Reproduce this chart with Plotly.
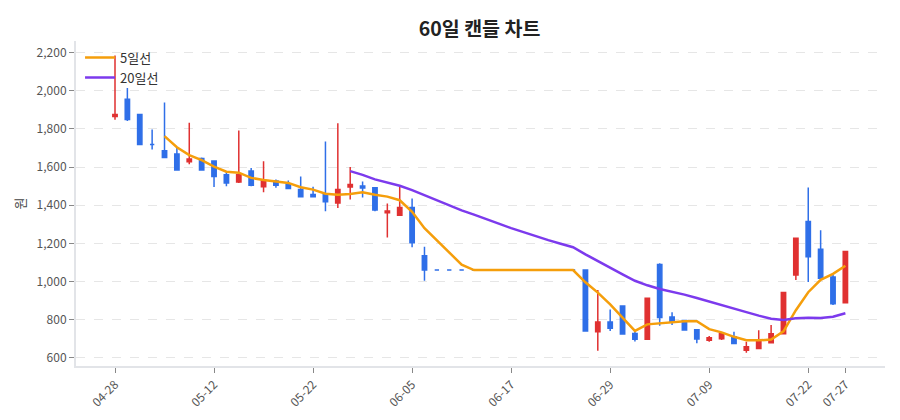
import pandas as pd
import plotly.graph_objects as go

# 거래일 (2026)
dates = ["04-28", "04-29", "04-30", "05-04", "05-06", "05-07", "05-08", "05-11",
         "05-12", "05-13", "05-14", "05-15", "05-18", "05-19", "05-20", "05-21",
         "05-22", "05-26", "05-27", "05-28", "05-29", "06-01", "06-02", "06-04",
         "06-05", "06-08", "06-09", "06-10", "06-11", "06-12", "06-15", "06-16",
         "06-17", "06-18", "06-19", "06-22", "06-23", "06-24", "06-25", "06-26",
         "06-29", "06-30", "07-01", "07-02", "07-03", "07-06", "07-07", "07-08",
         "07-09", "07-10", "07-13", "07-14", "07-15", "07-16", "07-20", "07-21",
         "07-22", "07-23", "07-24", "07-27"]

opens = [1865, 1955, 1875, 1718, 1685, 1668, 1628, 1645, 1632, 1560,
         1522, 1580, 1497, 1527, 1510, 1483, 1456, 1460, 1412, 1496,
         1501, 1492, 1360, 1348, 1388, 1135, 1060, 1060, 1060, 1060,
         1060, 1060, 1060, 1060, 1060, 1060, 1060, 1060, 1060, 737,
         788, 872, 728, 697, 1089, 814, 795, 747, 692, 700,
         710, 640, 649, 679, 726, 1034, 1314, 1169, 1024, 889]
highs = [2185, 2015, 1878, 1797, 1938, 1700, 1832, 1650, 1635, 1574,
         1792, 1595, 1630, 1535, 1530, 1551, 1497, 1734, 1830, 1600,
         1525, 1494, 1409, 1499, 1435, 1182, 1060, 1060, 1060, 1060,
         1060, 1060, 1060, 1060, 1060, 1060, 1060, 1060, 1062, 956,
         853, 873, 742, 913, 1096, 839, 797, 748, 714, 728,
         737, 684, 745, 772, 944, 1228, 1493, 1269, 1034, 1158]
lows = [1848, 1842, 1715, 1692, 1648, 1583, 1615, 1581, 1495, 1499,
        1517, 1500, 1468, 1492, 1485, 1443, 1442, 1369, 1386, 1430,
        1440, 1369, 1231, 1347, 1179, 1004, 1060, 1060, 1060, 1060,
        1060, 1060, 1060, 1060, 1060, 1060, 1060, 1060, 738, 637,
        740, 724, 686, 696, 768, 772, 745, 676, 684, 693,
        673, 626, 648, 678, 725, 1008, 997, 1015, 877, 888]
closes = [1875, 1850, 1718, 1718, 1650, 1585, 1642, 1585, 1550, 1517,
          1560, 1505, 1527, 1505, 1488, 1445, 1444, 1418, 1482, 1508,
          1490, 1375, 1370, 1388, 1203, 1060, 1060, 1060, 1060, 1060,
          1060, 1060, 1060, 1060, 1060, 1060, 1060, 1060, 740, 788,
          755, 725, 697, 912, 811, 791, 746, 698, 705, 726,
          675, 658, 693, 726, 943, 1227, 1130, 1017, 884, 1157]

tick_dates = ["04-28", "05-12", "05-22", "06-05", "06-17", "06-29", "07-09", "07-22", "07-27"]

RED = "#e03131"
BLUE = "#2f6fe8"

ma5 = pd.Series(closes).rolling(5).mean()
ma20 = pd.Series(closes).rolling(20).mean()

fig = go.Figure()
fig.add_trace(go.Candlestick(
    x=dates, open=opens, high=highs, low=lows, close=closes,
    increasing=dict(line=dict(color=RED, width=1.5), fillcolor=RED),
    decreasing=dict(line=dict(color=BLUE, width=1.5), fillcolor=BLUE),
    showlegend=False, name="캔들"))
fig.add_trace(go.Scatter(x=dates, y=ma5, mode="lines", name="5일선",
                         line=dict(color="#f59e0b", width=2.5)))
fig.add_trace(go.Scatter(x=dates, y=ma20, mode="lines", name="20일선",
                         line=dict(color="#7c3aed", width=2.5)))

fig.update_layout(
    width=900, height=420,
    margin=dict(l=68, r=23, t=33, b=62),
    paper_bgcolor="white", plot_bgcolor="white",
    boxgap=0.5,
    font=dict(family="Noto Sans CJK KR", size=12, color="#444"),
    title=dict(text="<b>60일 캔들 차트</b>", x=0.524, xanchor="center", y=0.965,
               font=dict(size=19.5, color="#222")),
    legend=dict(x=0.005, y=0.995, xanchor="left", yanchor="top",
                bgcolor="rgba(255,255,255,0)", font=dict(size=13, color="#333")),
    xaxis=dict(type="category", rangeslider=dict(visible=False),
               range=[-3.15, 62.2], tickmode="array", tickvals=tick_dates, ticktext=tick_dates,
               tickangle=-45, ticks="outside", ticklen=5, tickcolor="#888",
               showgrid=False, showline=True, linecolor="#e2e4e8", linewidth=2,
               tickfont=dict(size=12, color="#555")),
    yaxis=dict(title=dict(text="원", font=dict(size=13, color="#444"), standoff=8),
               range=[557, 2261], tickformat=",", dtick=200,
               ticks="outside", ticklen=5, tickcolor="#888",
               showgrid=True, gridcolor="#e6e6e6", griddash="dash",
               showline=True, linecolor="#e2e4e8", linewidth=2, zeroline=False,
               tickfont=dict(size=12, color="#555")),
)

fig.write_html("out.html")
